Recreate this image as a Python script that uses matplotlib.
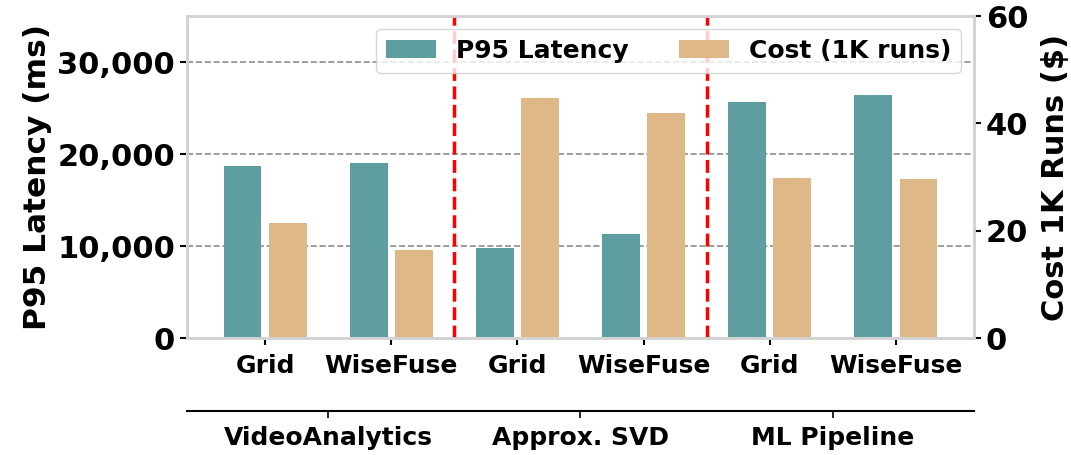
import matplotlib
matplotlib.use('Agg')
from matplotlib import pyplot as plt
import numpy as np

groups = ["VideoAnalytics", "Approx. SVD", "ML Pipeline"]
methods = ["Grid", "WiseFuse"]
latency_ms = [18700, 19000, 9800, 11300, 25700, 26400]
cost_1k = [21.4, 16.4, 44.8, 42.0, 29.9, 29.7]

teal = "#5F9EA0"
tan = "#DEB887"

plt.rcParams['font.family'] = 'DejaVu Sans'
plt.rcParams['font.weight'] = 'bold'

fig = plt.figure(figsize=(10.71, 4.55), dpi=100)
ax = fig.add_axes([0.1746, 0.2565, 0.7348, 0.7083])
ax2 = ax.twinx()

x = np.arange(len(latency_ms))
w = 0.3
off = 0.18

b1 = ax.bar(x - off, latency_ms, w, color=teal, label="P95 Latency", zorder=2)
b2 = ax2.bar(x + off, cost_1k, w, color=tan, label="Cost (1K runs)", zorder=2)

ax.set_xlim(-0.62, 5.62)
ax.set_ylim(0, 35000)
ax2.set_ylim(0, 60)
ax.set_yticks([0, 10000, 20000, 30000])
ax.set_yticklabels(["0", "10,000", "20,000", "30,000"])
ax2.set_yticks([0, 20, 40, 60])

ax.grid(axis='y', linestyle='--', color='gray', linewidth=1.2, alpha=0.9, zorder=0)
ax.set_axisbelow(True)

for xv in [1.5, 3.5]:
    ax2.axvline(xv, color='red', linestyle='--', linewidth=2.5, zorder=1)

ax.set_xticks(x)
ax.set_xticklabels(methods * len(groups), fontsize=18, fontweight='bold')
ax.tick_params(axis='x', length=5, width=1.5, pad=6)
ax.tick_params(axis='y', labelsize=22, length=5, width=1.5)
ax2.tick_params(axis='y', labelsize=22, length=5, width=1.5)

ax.set_ylabel("P95 Latency (ms)", fontsize=22.5, fontweight='bold')
ax2.set_ylabel("Cost 1K Runs ($)", fontsize=22, fontweight='bold', labelpad=9)

for a in [ax, ax2]:
    for s in a.spines.values():
        s.set_color('#d3d3d3')
        s.set_linewidth(2)

# group labels on a second x axis below
sec = ax.secondary_xaxis('bottom')
sec.spines['bottom'].set_position(('outward', 52))
sec.spines['bottom'].set_color('black')
sec.spines['bottom'].set_linewidth(1.5)
sec.set_xticks([0.5, 2.5, 4.5])
sec.set_xticklabels(groups, fontsize=18, fontweight='bold')
sec.tick_params(axis='x', length=5, width=1.2, pad=6)

leg = ax2.legend([b1, b2], ["P95 Latency", "Cost (1K runs)"], loc='upper right',
                 ncol=2, prop={'weight': 'bold', 'size': 18},
                 framealpha=0.8, borderaxespad=0.5, columnspacing=2.0)

plt.savefig('out.png', dpi=100)
